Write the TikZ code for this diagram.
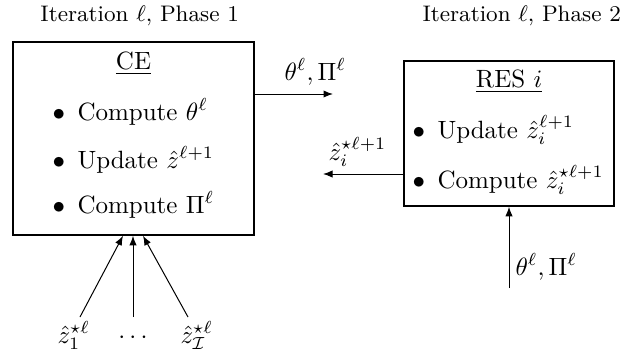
\documentclass[tikz,border=0pt]{standalone}
\usetikzlibrary{arrows.meta,calc}
\begin{document}
\begin{tikzpicture}[x=0.4pt,y=-0.4pt,
  box/.style={draw, line width=0.6pt, inner sep=0pt},
  arr/.style={-{Latex[length=3.8pt,width=2.9pt]}, line width=0.4pt},
  txt/.style={inner sep=0pt, anchor=base west},
  ttl/.style={inner sep=0pt, anchor=base}]
\useasboundingbox (0,0) rectangle (631,354);
% titles
\node[txt, font=\small] (t1) at (40,21) {Iteration $\ell$, Phase 1};
\node[txt, font=\small] (t2) at (422,21) {Iteration $\ell$, Phase 2};
% CE box
\node[box, minimum width=96.4pt, minimum height=77.2pt] (ce) at (133.5,138.5) {};
\node[ttl] (cet) at (133.5,69) {\underline{CE}};
\node[txt] (ce1) at (52,120) {$\bullet$\hspace{5pt}Compute $\theta^\ell$};
\node[txt] (ce2) at (52,168) {$\bullet$\hspace{5pt}Update $\hat{z}^{\ell+1}$};
\node[txt] (ce3) at (52,213) {$\bullet$\hspace{5pt}Compute $\Pi^\ell$};
% RES box
\node[box, minimum width=84pt, minimum height=58pt] (res) at (509,133.5) {};
\node[ttl] (rest) at (509,87) {\underline{RES $i$}};
\node[txt] (res1) at (412,138) {$\bullet$\hspace{5pt}Update $\hat{z}_i^{\ell+1}$};
\node[txt] (res2) at (412,188) {$\bullet$\hspace{5pt}Compute $\hat{z}_i^{\star\ell+1}$};
% arrow CE -> right
\coordinate (o1) at (333,94);
\draw[arr] (ce.east |- o1) -- (o1);
\node[txt] (l1) at (284,80) {$\theta^\ell, \Pi^\ell$};
% arrow RES -> left
\coordinate (o2) at (323,174);
\draw[arr] (res.west |- o2) -- (o2);
\node[txt] (l2) at (328,160) {$\hat{z}_i^{\star\ell+1}$};
% arrow into RES
\coordinate (i2) at (509,288);
\draw[arr] (i2) -- (res.south);
\node[txt] (l3) at (515,275) {$\theta^\ell, \Pi^\ell$};
% arrows into CE
\coordinate (s1) at (80,317);
\coordinate (s2) at (133,317);
\coordinate (s3) at (188,317);
\draw[arr] (s1) -- ($(ce.south)+(-10.5,0)$);
\draw[arr] (s2) -- ($(ce.south)+(-0.5,0)$);
\draw[arr] (s3) -- ($(ce.south)+(9.5,0)$);
\node[txt] (z1) at (57,343) {$\hat{z}_1^{\star\ell}$};
\node[ttl] (zd) at (133,343) {$\cdots$};
\node[txt] (zI) at (180,343) {$\hat{z}_{\mathcal{I}}^{\star\ell}$};
\end{tikzpicture}
\end{document}
